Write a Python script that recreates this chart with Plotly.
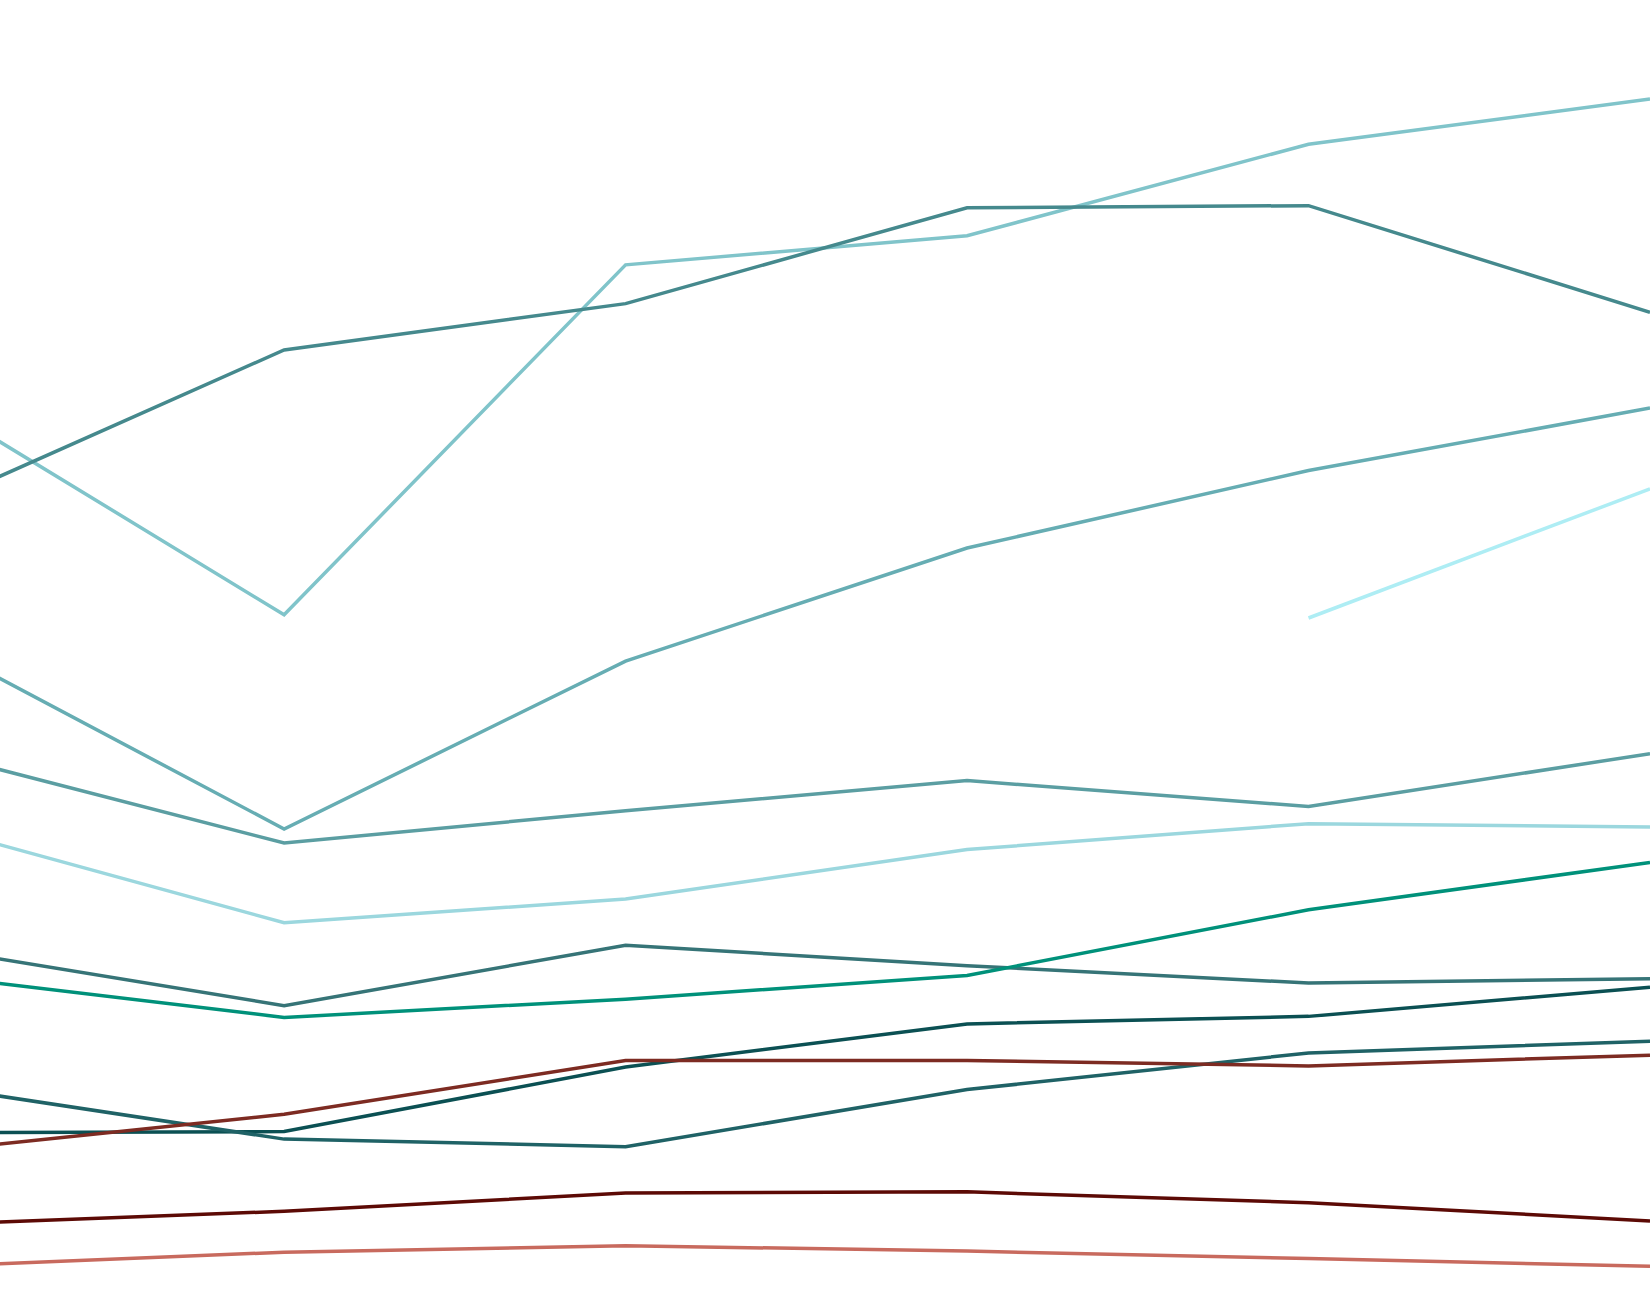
import plotly.graph_objects as go

years = [2015, 2016, 2017, 2018, 2019, 2020]

series_names = [
    "S1", "S2", "S3", "S4", "S5", "S6", "S7",
    "S8", "S9", "S10", "S11", "S12", "S13",
]

s1 = [82.2, 62.9, 95.4, 98.1, 106.6, 110.8]
s2 = [73.4, 87.5, 91.8, 100.7, 100.9, 91.0]
s3 = [59.8, 43.0, 58.6, 69.1, 76.3, 82.1]
s4 = [None, None, None, None, 62.6, 74.6]
s5 = [49.9, 41.7, 44.7, 47.5, 45.1, 50.0]
s6 = [43.0, 34.3, 36.5, 41.1, 43.5, 43.2]
s7 = [31.8, 26.6, 32.2, 30.3, 28.7, 29.1]
s8 = [29.3, 25.5, 27.2, 29.4, 35.5, 39.9]
s9 = [14.8, 14.9, 20.9, 24.9, 25.6, 28.3]
s10 = [19.0, 14.2, 13.5, 18.8, 22.2, 23.3]
s11 = [13.2, 16.5, 21.5, 21.5, 21.0, 22.0]
s12 = [6.3, 7.5, 9.2, 9.3, 8.3, 6.6]
s13 = [2.4, 3.7, 4.3, 3.8, 3.1, 2.4]

all_series = [s1, s2, s3, s4, s5, s6, s7, s8, s9, s10, s11, s12, s13]

colors = [
    "#80c4ca", "#45898d", "#66adb3", "#aeedf4", "#5b9ea2", "#9bd7de",
    "#367477", "#00917a", "#0b5053", "#1f6266", "#7d2b22", "#5c0a05", "#c86a5e",
]

fig = go.Figure()
for name, vals, col in zip(series_names, all_series, colors):
    fig.add_trace(go.Scatter(
        x=years, y=vals, mode="lines", name=name,
        line=dict(color=col, width=3.5),
        connectgaps=False,
    ))

fig.update_layout(
    width=1650, height=1292,
    margin=dict(l=0, r=0, t=0, b=0),
    paper_bgcolor="white", plot_bgcolor="white",
    showlegend=False,
    xaxis=dict(range=[2015.168, 2020.0], visible=False),
    yaxis=dict(range=[0, 120], visible=False),
)

fig.write_html(
    "out.html",
    config={"displayModeBar": False},
    post_script="document.body.style.margin='0px';document.body.style.overflow='hidden';",
)
